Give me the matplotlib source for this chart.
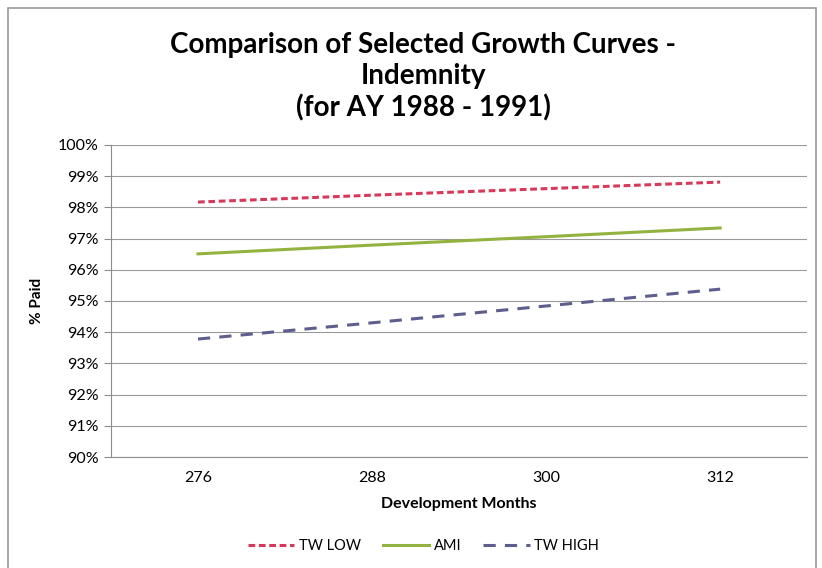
import matplotlib
matplotlib.use('Agg')
import matplotlib.pyplot as plt
from matplotlib.patches import Rectangle
from matplotlib.ticker import PercentFormatter

# Development months (category axis) and % paid for each growth curve
months = ['276', '288', '300', '312']
tw_low = [98.17, 98.39, 98.60, 98.81]
ami = [96.51, 96.79, 97.06, 97.34]
tw_high = [93.78, 94.30, 94.84, 95.38]

plt.rcParams['font.family'] = ['Lato', 'DejaVu Sans']

fig = plt.figure(figsize=(8.22, 5.68), dpi=100)
ax = fig.add_axes([0.135, 0.1954, 0.847, 0.5494])

# outer chart border
fig.patches.append(Rectangle((8 / 822, -0.01), 808 / 822, 1 - 8 / 568 + 0.01,
                             transform=fig.transFigure, fill=False,
                             edgecolor='#9a9a9a', linewidth=1.2))

x = range(len(months))
ax.plot(x, tw_low, color='#D6395A', linestyle=(0, (2.2, 1.2)), linewidth=2.2, label='TW LOW')
ax.plot(x, ami, color='#92B33F', linestyle='-', linewidth=2.2, label='AMI')
ax.plot(x, tw_high, color='#5E5E8E', linestyle=(0, (4, 3)), linewidth=2.2, label='TW HIGH')

ax.set_xlim(-0.5, len(months) - 0.5)
ax.set_ylim(90, 100)
ax.set_yticks(range(90, 101))
ax.yaxis.set_major_formatter(PercentFormatter(decimals=0))
ax.set_xticks(list(x))
ax.set_xticklabels(months)

ax.grid(axis='y', color='#999999', linewidth=0.8)
ax.set_axisbelow(True)
for side in ['top', 'right']:
    ax.spines[side].set_visible(False)
ax.spines['left'].set_color('#8c8c8c')
ax.spines['bottom'].set_color('#8c8c8c')
ax.tick_params(axis='y', length=5, color='#8c8c8c', labelsize=11.5, pad=4)
ax.tick_params(axis='x', length=0, labelsize=11.5, pad=10)

ax.set_xlabel('Development Months', fontsize=11.5, fontweight='bold', labelpad=9)
ax.set_ylabel('% Paid', fontsize=11, fontweight='bold', labelpad=10)

fig.text(0.515, 0.865, 'Comparison of Selected Growth Curves -\nIndemnity\n(for AY 1988 - 1991)',
         ha='center', va='center', fontsize=20, fontweight='bold', linespacing=1.25)

fig.legend(loc='center', bbox_to_anchor=(0.515, 0.038), ncol=3, frameon=False,
           fontsize=10.5, handlelength=3.2, columnspacing=1.5, handletextpad=0.3)

fig.savefig('out.png', dpi=100, facecolor='white')
